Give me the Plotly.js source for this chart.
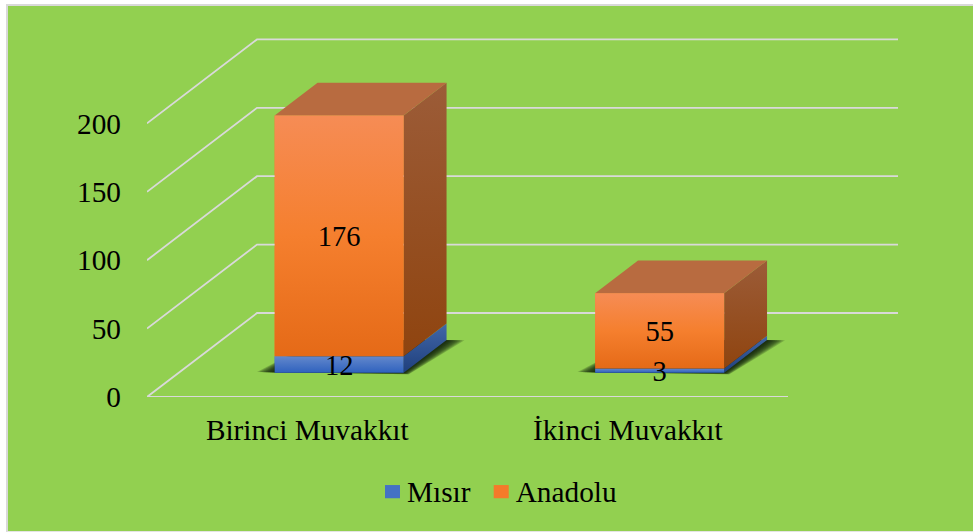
<!DOCTYPE html>
<html>
<head>
<meta charset="utf-8">
<script src="https://cdn.plot.ly/plotly-3.0.1.min.js"></script>
<style>
html,body{margin:0;padding:0;background:#fff;overflow:hidden;width:973px;height:532px}
#frame{position:absolute;left:6px;top:4px;width:965px;height:525px;border-left:2px solid #d9d9d9;border-top:2px solid #d9d9d9;border-bottom:1px solid #e4e4e4;box-sizing:content-box}
#chart{width:965px;height:525px;position:absolute;left:0;top:0}
</style>
</head>
<body>
<div id="frame"><div id="chart"></div></div>
<script>
// Data
const categories = ["Birinci Muvakkıt", "İkinci Muvakkıt"];
const misir = [12, 3];
const anadolu = [176, 55];
const yTicks = [0, 50, 100, 150, 200];

// Oblique projection settings (category units, value units)
const DEPTH_X = 0.3432, DEPTH_Y = 61.4;
const BAR_W = 0.4025, D_FRONT = 0.29, D_BACK = 0.68;
const FLOOR_W = 2;
const FONT = '"Liberation Serif","Times New Roman",serif';
const AXIS_SIZE = 29.3, LABEL_SIZE = 28.5, LABEL_DROP = 2.2;

const P = (x, v, d) => [x + d * DEPTH_X, v + d * DEPTH_Y];
const poly = pts => ({ x: [...pts.map(p => p[0]), pts[0][0]], y: [...pts.map(p => p[1]), pts[0][1]] });
const grad = (top, bottom) => ({ type: 'vertical', colorscale: [[0, bottom], [1, top]] });

const traces = [];
// legend-carrying real bars (front plane)
const lift = D_FRONT * DEPTH_Y;
const centers = categories.map((_, i) => i + 0.5 + D_FRONT * DEPTH_X);
traces.push({ type: 'bar', name: 'Mısır', x: centers, y: misir, base: misir.map(() => lift), width: BAR_W, marker: { color: '#4472C4' }, hoverinfo: 'skip' });
traces.push({ type: 'bar', name: 'Anadolu', x: centers, y: anadolu, base: misir.map(m => lift + m), width: BAR_W, marker: { color: '#F47A2A' }, hoverinfo: 'skip' });

// walls and floor gridlines
const glx = [], gly = [];
yTicks.forEach(t => {
  const a = P(0, t, 0), b = P(0, t, 1), c = P(FLOOR_W, t, 1);
  glx.push(a[0], b[0], c[0], null); gly.push(a[1], b[1], c[1], null);
});
{ const a = P(0, 0, 0), b = P(FLOOR_W, 0, 0); glx.push(a[0], b[0], null); gly.push(a[1], b[1], null); }
traces.push({ type: 'scatter', mode: 'lines', x: glx, y: gly, line: { color: '#D9D9D9', width: 1.8 }, showlegend: false, hoverinfo: 'skip', cliponaxis: false });

const face = (pts, fill) => {
  traces.push(Object.assign({ type: 'scatter', mode: 'lines', line: { width: 0 }, fill: 'toself', showlegend: false, hoverinfo: 'skip', cliponaxis: false }, poly(pts), fill));
};

categories.forEach((_, i) => {
  const L = i + 0.5 - BAR_W / 2, R = i + 0.5 + BAR_W / 2;
  const m = misir[i], t = m + anadolu[i];
  // soft floor shadow: nested translucent layers
  [0.058, 0.052, 0.046, 0.040, 0.034, 0.028, 0.022, 0.016, 0.010, 0.004].forEach(g => {
    const low = D_FRONT - g * 0.35;
    face([P(L - g, 0, low + g * 0.5), P(R + g * 0.4, 0, low), P(R + g, 0, D_BACK - g * 0.1), P(L, 0, D_BACK - g * 0.1)], { fillcolor: 'rgba(15,30,10,0.2)' });
  });
  // blue block
  face([P(R, 0, D_FRONT), P(R, 0, D_BACK), P(R, m, D_BACK), P(R, m, D_FRONT)], { fillgradient: grad('#4167A8', '#1F3F7C') });
  face([P(L, 0, D_FRONT), P(R, 0, D_FRONT), P(R, m, D_FRONT), P(L, m, D_FRONT)], { fillgradient: grad('#6388CC', '#2F62BE') });
  // orange block
  face([P(R, m, D_FRONT), P(R, m, D_BACK), P(R, t, D_BACK), P(R, t, D_FRONT)], { fillgradient: grad('#9C5C38', '#8F440F') });
  face([P(L, t, D_FRONT), P(R, t, D_FRONT), P(R, t, D_BACK), P(L, t, D_BACK)], { fillcolor: '#B86B40' });
  face([P(L, m, D_FRONT), P(R, m, D_FRONT), P(R, t, D_FRONT), P(L, t, D_FRONT)], { fillgradient: { type: 'vertical', colorscale: [[0, '#E56A17'], [0.5, '#F57F2E'], [1, '#F68C55']] } });
});

// data labels
traces.push({
  type: 'scatter', mode: 'text', showlegend: false, hoverinfo: 'skip', cliponaxis: false,
  x: [...centers, ...centers],
  y: [...misir.map(m => lift + m / 2 - LABEL_DROP), ...anadolu.map((a, i) => lift + misir[i] + a / 2 - LABEL_DROP)],
  text: [...misir.map(String), ...anadolu.map(String)],
  textposition: 'middle center',
  textfont: { family: FONT, size: LABEL_SIZE, color: '#000' }
});

const layout = {
  width: 965, height: 525,
  margin: { l: 139, r: 75, t: 20, b: 134, pad: 0 },
  paper_bgcolor: '#92D050', plot_bgcolor: 'rgba(0,0,0,0)',
  font: { family: FONT, color: '#000', size: AXIS_SIZE },
  barmode: 'overlay',
  hovermode: false,
  xaxis: { range: [0, 2 + DEPTH_X], tickmode: 'array', tickvals: categories.map((_, i) => i + 0.5), ticktext: categories, showgrid: false, zeroline: false, showline: false, ticks: '', ticklabelstandoff: 13, automargin: false, tickfont: { family: FONT, size: AXIS_SIZE, color: '#000' } },
  yaxis: { range: [0, 271.2], tickmode: 'array', tickvals: yTicks, ticktext: yTicks.map(String), showgrid: false, zeroline: false, showline: false, ticks: '', ticklabelstandoff: 25, automargin: false, tickfont: { family: FONT, size: AXIS_SIZE, color: '#000' } },
  legend: { orientation: 'h', xref: 'container', yref: 'container', x: 0.372, xanchor: 'left', y: 0.076, yanchor: 'middle', font: { family: FONT, size: AXIS_SIZE, color: '#000' }, bgcolor: 'rgba(0,0,0,0)', itemclick: false, itemdoubleclick: false },
  showlegend: true
};
Plotly.newPlot('chart', traces, layout, { displayModeBar: false, staticPlot: true }).then(() => {
  // nudge the legend swatches next to their labels, as in the reference
  document.querySelectorAll('.legendpoints').forEach(g => g.setAttribute('transform', 'translate(0.5,1) scale(1.25,1.1)'));
});
</script>
</body>
</html>
